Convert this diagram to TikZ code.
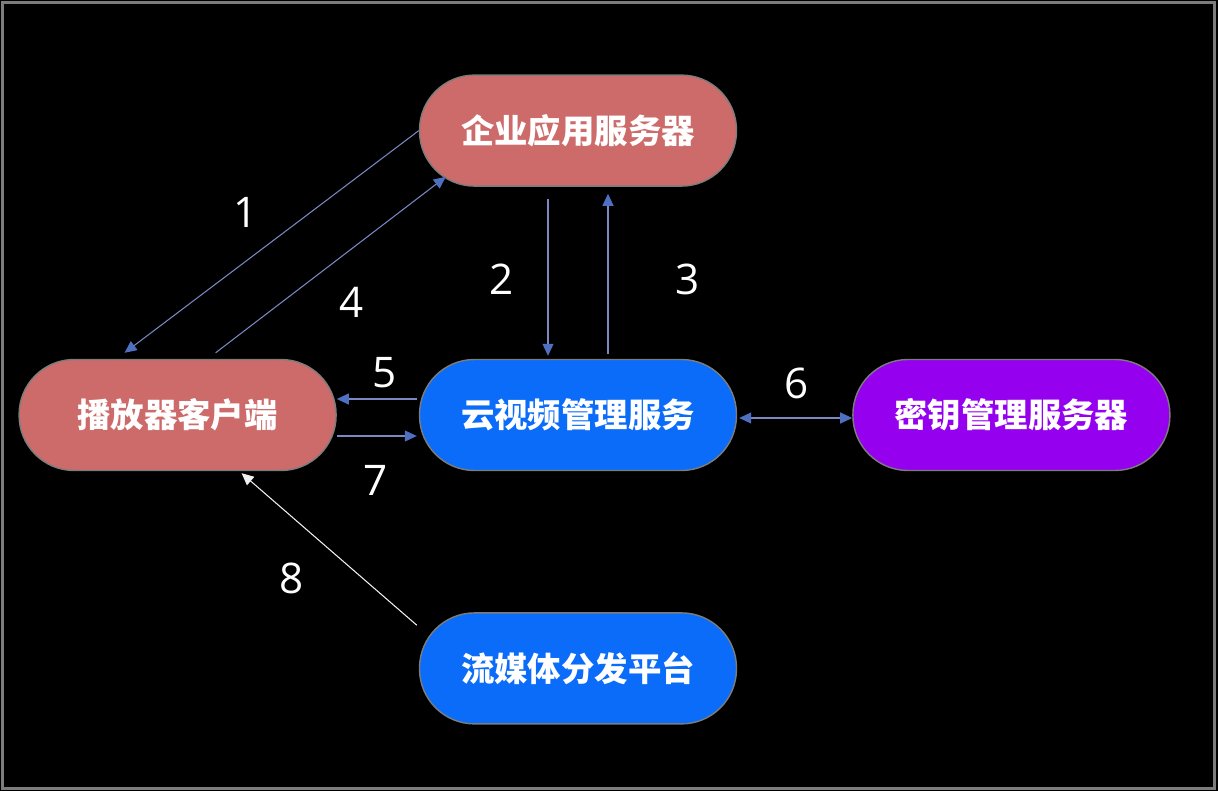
\documentclass[tikz,border=0pt]{standalone}
\usepackage{fontspec}
\usepackage{tikz}
\usetikzlibrary{arrows.meta,calc,positioning}
\setmainfont{Open Sans}
\newfontfamily\cjk{Noto Sans CJK SC}
\definecolor{VodRed}{HTML}{CD6B6B}
\definecolor{VodBlue}{HTML}{0A6CF8}
\definecolor{VodPurple}{HTML}{9500EE}
\definecolor{VodLink}{HTML}{7A88C4}
\definecolor{VodTip}{HTML}{4F6FC0}
\definecolor{VodFrame}{HTML}{7C7C7C}
\tikzset{
  >={Triangle[length=2.4mm,width=2.2mm]},
  flow/.style={->,line width=0.6pt,draw=VodLink,
    arrows={-Triangle[length=2.4mm,width=2.2mm,color=VodTip]}},
  twoflow/.style={line width=0.6pt,draw=VodLink,
    arrows={Triangle[length=2.4mm,width=2.2mm,color=VodTip]-Triangle[length=2.4mm,width=2.2mm,color=VodTip]}},
  whiteflow/.style={->,line width=0.6pt,draw=white!88!gray},
  pill/.style={rectangle,rounded corners=11mm,minimum width=63.4mm,
    minimum height=22.2mm,draw=VodFrame,line width=0.8pt,text=white,
    font=\cjk\bfseries\fontsize{19}{22}\selectfont},
  redpill/.style={pill,fill=VodRed},
  bluepill/.style={pill,fill=VodBlue},
  purplepill/.style={pill,fill=VodPurple},
  num/.style={text=white,font=\fontsize{24}{28}\selectfont}
}
\begin{document}
\begin{tikzpicture}
  \useasboundingbox (0,0) rectangle (24.36,-15.82);
  \fill[black] (0,0) rectangle (24.36,-15.82);
  \draw[VodFrame,line width=0.06cm] (0.05,-0.05) rectangle (24.29,-15.77);

  \node[bluepill] (vms) at (11.56,-8.30) {云视频管理服务};
  \node[redpill,above=34.4mm of vms] (app) {企业应用服务器};
  \node[redpill,left=16.4mm of vms] (player) {播放器客户端};
  \node[purplepill,right=23mm of vms] (kms) {密钥管理服务器};
  \node[bluepill,below=28.2mm of vms] (cdn) {流媒体分发平台};

  \draw[flow] (app.west) -- ([xshift=-10.6mm,yshift=1.2mm]player.north);
  \draw[flow] ([xshift=-6mm,yshift=-2.4mm]app.south) -- ([xshift=-6mm,yshift=0.6mm]vms.north);
  \draw[flow] ([xshift=6mm,yshift=1mm]vms.north) -- ([xshift=6mm,yshift=-1.4mm]app.south);
  \draw[flow] ([xshift=7.6mm,yshift=1.2mm]player.north) -- ([xshift=5.4mm,yshift=2mm]app.south west);
  \draw[flow] ([xshift=-0.4mm,yshift=3.2mm]vms.west) -- ([yshift=3.2mm]player.east);
  \draw[flow] ([yshift=-4.2mm]player.east) -- ([xshift=-0.4mm,yshift=-4.2mm]vms.west);
  \draw[twoflow] ([xshift=0.4mm,yshift=-0.6mm]vms.east) -- ([yshift=-0.6mm]kms.west);
  \draw[whiteflow] ([xshift=-0.4mm,yshift=-2.6mm]cdn.north west) -- ([xshift=12.8mm,yshift=-0.4mm]player.south);

  \node[num] (n1) at (4.92,-4.24) {1};
  \node[num] (n2) at (10.04,-5.58) {2};
  \node[num] (n3) at (13.76,-5.58) {3};
  \node[num] (n4) at (7.04,-6.04) {4};
  \node[num] (n5) at (7.70,-7.46) {5};
  \node[num] (n6) at (15.94,-7.66) {6};
  \node[num] (n7) at (7.52,-9.60) {7};
  \node[num] (n8) at (5.84,-11.56) {8};
\end{tikzpicture}
\end{document}
